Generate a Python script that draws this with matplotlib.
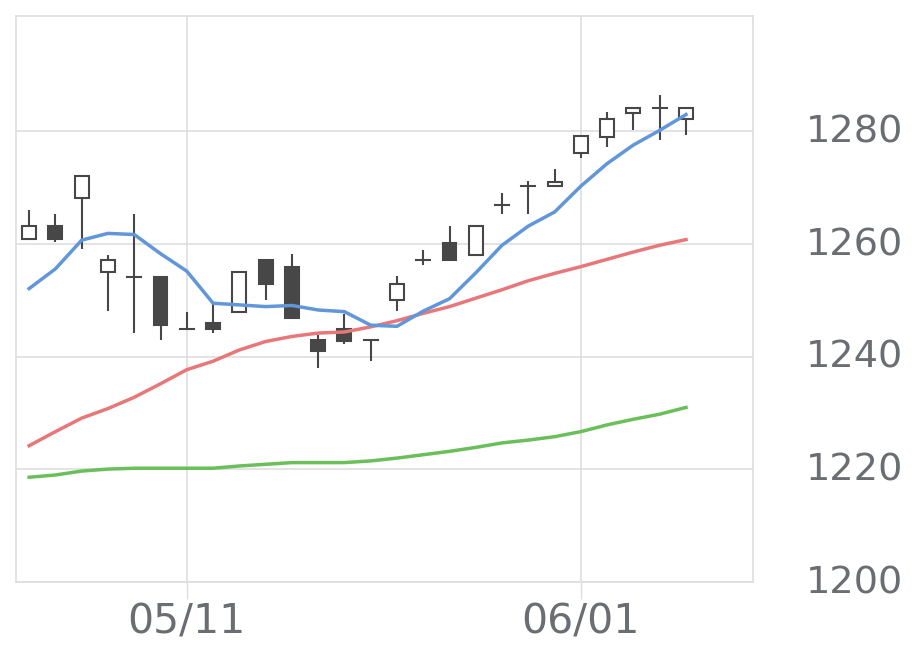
import matplotlib
matplotlib.use("Agg")
import matplotlib.pyplot as plt
from matplotlib.patches import Rectangle
from matplotlib.transforms import ScaledTranslation

# daily OHLC, one entry per trading day
opens = [1260.9, 1263.2, 1268.1, 1255.0, 1254.1, 1254.2, 1244.9, 1245.9, 1247.9, 1257.2,
         1256.0, 1243.0, 1245.0, 1243.0, 1250.0, 1257.1, 1260.2, 1258.0, 1267.0, 1270.3,
         1270.3, 1276.2, 1279.1, 1283.3, 1284.2, 1282.2]
highs = [1266.1, 1265.3, 1272.1, 1258.1, 1265.3, 1254.2, 1248.0, 1249.4, 1255.0, 1257.2,
         1258.2, 1243.9, 1247.6, 1243.0, 1254.3, 1259.0, 1263.2, 1263.2, 1269.1, 1271.2,
         1273.3, 1279.2, 1283.4, 1284.2, 1286.4, 1284.2]
lows = [1260.9, 1260.3, 1259.1, 1248.1, 1244.2, 1243.0, 1244.9, 1244.2, 1247.9, 1250.1,
        1246.9, 1238.0, 1242.2, 1239.2, 1248.1, 1256.2, 1257.1, 1258.0, 1265.4, 1265.4,
        1270.3, 1275.2, 1277.3, 1280.2, 1278.5, 1279.4]
closes = [1263.2, 1260.9, 1272.1, 1257.2, 1254.1, 1245.7, 1244.9, 1244.9, 1255.0, 1252.9,
          1246.9, 1241.0, 1242.8, 1243.0, 1253.0, 1257.1, 1257.1, 1263.2, 1267.0, 1270.3,
          1271.0, 1279.2, 1282.2, 1284.2, 1284.2, 1284.2]

# moving averages
ma_short = [1252.1, 1255.6, 1260.7, 1261.9, 1261.7, 1258.3, 1255.2, 1249.5, 1249.2, 1248.9,
            1249.1, 1248.3, 1248.0, 1245.6, 1245.4, 1248.1, 1250.3, 1254.9, 1259.8, 1263.2,
            1265.7, 1270.3, 1274.3, 1277.6, 1280.2, 1283.0]
ma_mid = [1224.2, 1226.7, 1229.1, 1230.8, 1232.8, 1235.2, 1237.7, 1239.2, 1241.2, 1242.7,
          1243.6, 1244.2, 1244.4, 1245.3, 1246.4, 1247.7, 1248.9, 1250.4, 1251.9, 1253.5,
          1254.8, 1256.0, 1257.3, 1258.6, 1259.8, 1260.8]
ma_long = [1218.6, 1219.0, 1219.7, 1220.05, 1220.2, 1220.2, 1220.2, 1220.2, 1220.6, 1220.9,
           1221.2, 1221.2, 1221.2, 1221.5, 1222.0, 1222.6, 1223.2, 1223.9, 1224.7, 1225.2,
           1225.8, 1226.7, 1227.9, 1228.9, 1229.8, 1231.0]

tick_pos = [6, 21]
tick_labels = ["05/11", "06/01"]
y_ticks = [1200, 1220, 1240, 1260, 1280]

candle_col = "#474747"
grid_col = "#dedede"
text_col = "#6a6d71"

fig = plt.figure(figsize=(9.2, 6.69), dpi=100)
ax = fig.add_axes([16 / 920, 87 / 669, 737 / 920, 566 / 669])

x = list(range(len(opens)))
w = 0.53
for i in x:
    o, h, l, c = opens[i], highs[i], lows[i], closes[i]
    ax.plot([i, i], [l, h], color=candle_col, lw=1.5, zorder=3, solid_capstyle="butt")
    bottom = min(o, c)
    height = abs(c - o)
    if height < 0.3:
        ax.plot([i - w / 2, i + w / 2], [o, o], color=candle_col, lw=1.5, zorder=4)
    else:
        face = "white" if c > o else candle_col
        ax.add_patch(Rectangle((i - w / 2, bottom), w, height, facecolor=face,
                               edgecolor=candle_col, lw=1.5, zorder=4))

ax.plot(x, ma_long, color="#6abf5a", lw=2.5, zorder=5)
ax.plot(x, ma_mid, color="#e8777a", lw=2.5, zorder=5)
ax.plot(x, ma_short, color="#6196d9", lw=2.5, zorder=5)

ax.set_xlim(-0.5, 27.55)
ax.set_ylim(1200, 1300.5)
ax.set_xticks(tick_pos)
ax.set_xticklabels(tick_labels)
ax.set_yticks(y_ticks)
ax.yaxis.tick_right()
ax.grid(True, color=grid_col, lw=1.2)
ax.set_axisbelow(True)
for s in ax.spines.values():
    s.set_color(grid_col)
    s.set_linewidth(1.2)
ax.tick_params(axis="y", length=0, pad=38, labelsize=27.5, labelcolor=text_col)
ax.tick_params(axis="x", length=12, width=1, color="#d9dde6", pad=3,
               labelsize=29.5, labelcolor=text_col)

# nudge y labels up a little
shift = ScaledTranslation(0, 3 / 100, fig.dpi_scale_trans)
for lbl in ax.get_yticklabels():
    lbl.set_transform(lbl.get_transform() + shift)

fig.savefig("out.png", dpi=100)
